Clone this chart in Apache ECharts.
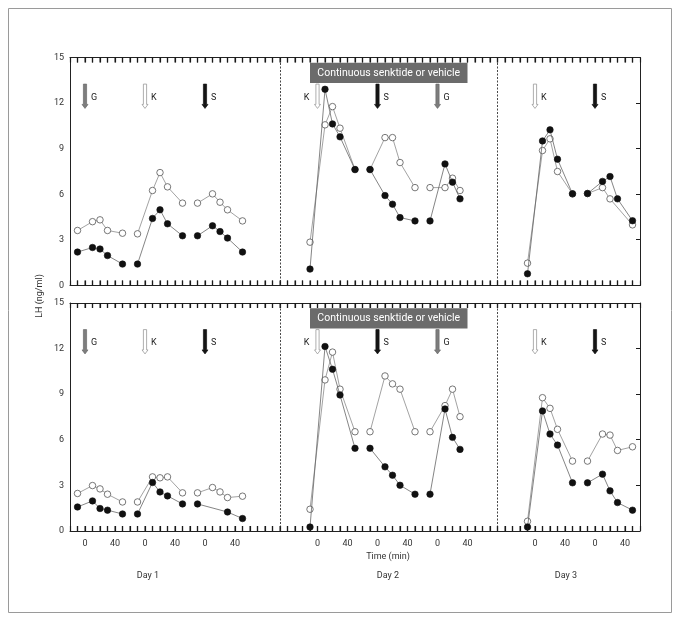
<!DOCTYPE html>
<html>
<head>
<meta charset="utf-8">
<script src="https://cdn.jsdelivr.net/npm/echarts@6/dist/echarts.min.js"></script>
<style>
  html, body { margin: 0; padding: 0; background: #fff; }
  #chart { width: 681px; height: 622px; }
</style>
</head>
<body>
<div id="chart"></div>
<script>
// time axis is one long minute scale, every injection gets its own "0"
const injectionZeros = [20, 100, 180, 330, 410, 490, 620, 700];
const injectionNames = ['G', 'K', 'S', 'K', 'S', 'G', 'K', 'S'];
const sampleTimes = [-10, 10, 20, 30, 50];
const timeTickOffsets = [0, 40];
const dayDividers = [280, 570];
const dayNames = ['Day 1', 'Day 2', 'Day 3'];
const bannerText = 'Continuous senktide or vehicle';

// LH (ng/ml), one row per injection group, null = no sample
const topFilled = [
  [2.2, 2.5, 2.4, 1.97, 1.41],
  [1.41, 4.41, 4.98, 4.06, 3.27],
  [3.27, 3.93, 3.55, 3.12, 2.2],
  [1.08, 12.91, 10.63, 9.78, 7.63],
  [7.63, 5.92, 5.35, 4.47, 4.25],
  [4.25, 8.0, 6.8, 5.7, null],
  [0.77, 9.51, 10.24, 8.31, 6.03],
  [6.05, 6.85, 7.17, 5.7, 4.26],
];
const topOpen = [
  [3.62, 4.2, 4.32, 3.62, 3.44],
  [3.4, 6.25, 7.43, 6.49, 5.42],
  [5.42, 6.03, 5.48, 4.98, 4.25],
  [2.85, 10.57, 11.77, 10.35, 7.63],
  [7.63, 9.73, 9.73, 8.09, 6.44],
  [6.44, 6.44, 7.06, 6.25, null],
  [1.47, 8.88, 9.65, 7.5, 6.03],
  [6.05, 6.44, 5.7, null, 3.99],
];
const bottomFilled = [
  [1.58, 1.98, 1.48, 1.37, 1.12],
  [1.12, 3.19, 2.57, 2.31, 1.78],
  [1.78, null, null, 1.25, 0.82],
  [0.26, 12.14, 10.64, 8.95, 5.44],
  [5.44, 4.22, 3.67, 3.01, 2.42],
  [2.42, 8.03, 6.16, 5.37, null],
  [0.26, 7.9, 6.38, 5.65, 3.17],
  [3.17, 3.74, 2.64, 1.87, 1.37],
];
const bottomOpen = [
  [2.47, 2.99, 2.77, 2.42, 1.91],
  [1.91, 3.56, 3.5, 3.56, 2.51],
  [2.51, 2.86, 2.57, 2.2, 2.29],
  [1.43, 9.94, 11.77, 9.33, 6.53],
  [6.53, 10.2, 9.68, 9.33, 6.53],
  [6.53, 8.25, 9.33, 7.52, null],
  [0.64, 8.77, 8.07, 6.69, 4.6],
  [4.6, 6.38, 6.31, 5.3, 5.54],
];

const FONT = 'Roboto';
const X_MAX = 760;
const Y_MAX = 15;

const labelValues = [];
injectionZeros.forEach((z) => timeTickOffsets.forEach((o) => labelValues.push(z + o)));
const xTickValues = [];
for (let v = 10; v < X_MAX; v += 10) xTickValues.push(v);
const yTickValues = [3, 6, 9, 12];

const arrowFill = { G: '#7d7d7d', K: '#ffffff', S: '#141414' };
const arrowStroke = { G: '#6a6a6a', K: '#8c8c8c', S: '#141414' };

const xAxisFor = (gridIndex, position, withLabels) => ({
  type: 'value',
  gridIndex,
  position,
  min: 0,
  max: X_MAX,
  interval: 10,
  splitLine: { show: false },
  axisLine: { show: true, onZero: false, lineStyle: { color: '#222', width: 1 } },
  axisTick: { show: true, inside: true, length: 5, lineStyle: { color: '#1a1a1a', width: 1.2 } },
  axisLabel: withLabels
    ? {
        show: true,
        customValues: labelValues,
        margin: 8,
        fontSize: 9,
        fontFamily: FONT,
        color: '#333',
        formatter: (v) => {
          const z = injectionZeros.find((zz) => timeTickOffsets.includes(v - zz));
          return z == null ? '' : String(v - z);
        },
      }
    : { show: false },
});

const yAxisFor = (gridIndex, position) => ({
  type: 'value',
  gridIndex,
  position,
  min: 0,
  max: Y_MAX,
  interval: 3,
  splitLine: { show: false },
  axisLine: { show: true, onZero: false, lineStyle: { color: '#222', width: 1 } },
  axisTick: { show: false },
  axisLabel: position === 'left'
    ? { show: true, fontSize: 9, fontFamily: FONT, color: '#333', margin: 6 }
    : { show: false },
});

// frame ticks along top / bottom as small rect symbols sitting on the edge
const edgeTickSeries = (gridIdx, atTop) => ({
  type: 'scatter',
  xAxisIndex: gridIdx * 2,
  yAxisIndex: gridIdx * 2,
  data: xTickValues.map((v) => [v, atTop ? Y_MAX : 0]),
  symbol: 'rect',
  symbolSize: [1.2, 5],
  symbolOffset: [0, atTop ? 2.5 : -2.5],
  itemStyle: { color: '#1a1a1a' },
  silent: true,
  clip: false,
  z: 7,
  animation: false,
});

// right-side y ticks
const yTickSeries = (gridIdx) => ({
  type: 'custom',
  xAxisIndex: gridIdx * 2,
  yAxisIndex: gridIdx * 2,
  silent: true,
  clip: false,
  z: 7,
  data: yTickValues.map((v) => [X_MAX, v]),
  renderItem: (params, api) => {
    const p = api.coord([api.value(0), api.value(1)]);
    return {
      type: 'rect',
      shape: { x: p[0] - 4, y: Math.floor(p[1]), width: 4, height: 1 },
      style: { fill: '#1a1a1a' },
    };
  },
});

const toPoints = (values, groupIdx) => {
  const pts = [];
  values.forEach((v, i) => {
    if (v != null) pts.push([injectionZeros[groupIdx] + sampleTimes[i], v]);
  });
  return pts;
};

const lineSeries = (values, groupIdx, gridIdx, filled) => ({
  type: 'line',
  xAxisIndex: gridIdx * 2,
  yAxisIndex: gridIdx * 2,
  data: toPoints(values, groupIdx),
  symbol: 'circle',
  symbolSize: 6.5,
  lineStyle: { color: filled ? '#666' : '#8a8a8a', width: 0.8 },
  itemStyle: filled
    ? { color: '#111', borderColor: '#111', borderWidth: 0.6 }
    : { color: '#fff', borderColor: '#555', borderWidth: 0.8 },
  z: filled ? 4 : 3,
  silent: true,
  animation: false,
});

const dividerSeries = (gridIdx) => ({
  type: 'line',
  xAxisIndex: gridIdx * 2,
  yAxisIndex: gridIdx * 2,
  data: [],
  silent: true,
  markLine: {
    silent: true,
    symbol: ['none', 'none'],
    label: { show: false },
    lineStyle: { color: '#333', width: 0.9, type: [2, 1.5] },
    data: dayDividers.map((x) => ({ xAxis: x })),
    animation: false,
  },
});

const arrowSeries = (gridIdx) => ({
  type: 'custom',
  xAxisIndex: gridIdx * 2,
  yAxisIndex: gridIdx * 2,
  silent: true,
  z: 5,
  data: injectionZeros.map((z, i) => [z, 13.25, 11.65, i]),
  renderItem: (params, api) => {
    const top = api.coord([api.value(0), api.value(1)]);
    const bot = api.coord([api.value(0), api.value(2)]);
    const name = injectionNames[api.value(3)];
    const x = top[0];
    const hb = bot[1] - 4;
    const leftLabel = api.value(3) === 3;
    return {
      type: 'group',
      children: [
        {
          type: 'polygon',
          shape: {
            points: [
              [x - 1.6, top[1]], [x + 1.6, top[1]], [x + 1.6, hb], [x + 3, hb],
              [x, bot[1]], [x - 3, hb], [x - 1.6, hb],
            ],
          },
          style: { fill: arrowFill[name], stroke: arrowStroke[name], lineWidth: 0.7 },
        },
        {
          type: 'text',
          style: {
            text: name,
            x: leftLabel ? x - 8 : x + 6,
            y: (top[1] + bot[1]) / 2 + 1,
            align: leftLabel ? 'right' : 'left',
            verticalAlign: 'middle',
            fontSize: 9,
            fontFamily: FONT,
            fill: '#222',
          },
        },
      ],
    };
  },
});

const bannerSeries = (gridIdx) => ({
  type: 'custom',
  xAxisIndex: gridIdx * 2,
  yAxisIndex: gridIdx * 2,
  silent: true,
  z: 6,
  data: [[320, 14.66, 530, 13.32]],
  renderItem: (params, api) => {
    const a = api.coord([api.value(0), api.value(1)]);
    const b = api.coord([api.value(2), api.value(3)]);
    return {
      type: 'group',
      children: [
        {
          type: 'rect',
          shape: { x: a[0], y: a[1], width: b[0] - a[0], height: b[1] - a[1] },
          style: { fill: '#6b6b6b' },
        },
        {
          type: 'text',
          style: {
            text: bannerText,
            x: (a[0] + b[0]) / 2,
            y: (a[1] + b[1]) / 2 + 0.5,
            align: 'center',
            verticalAlign: 'middle',
            fontSize: 10.5,
            fontFamily: FONT,
            fill: '#fff',
          },
        },
      ],
    };
  },
});

const series = [];
[[topFilled, topOpen], [bottomFilled, bottomOpen]].forEach(([filled, open], gridIdx) => {
  series.push(dividerSeries(gridIdx));
  series.push(edgeTickSeries(gridIdx, false));
  series.push(edgeTickSeries(gridIdx, true));
  series.push(yTickSeries(gridIdx));
  open.forEach((vals, g) => series.push(lineSeries(vals, g, gridIdx, false)));
  filled.forEach((vals, g) => series.push(lineSeries(vals, g, gridIdx, true)));
  series.push(arrowSeries(gridIdx));
  series.push(bannerSeries(gridIdx));
});

const textStyle = { fontFamily: FONT, fontSize: 9, fill: '#333' };

const chart = echarts.init(document.getElementById('chart'), null, { renderer: 'canvas' });
chart.setOption({
  animation: false,
  backgroundColor: '#fff',
  grid: [
    { left: 70, top: 57.5, width: 570, height: 228, outerBoundsMode: 'none' },
    { left: 70, top: 303, width: 570, height: 228, outerBoundsMode: 'none' },
  ],
  xAxis: [
    xAxisFor(0, 'bottom', false),
    xAxisFor(0, 'top', false),
    xAxisFor(1, 'bottom', true),
    xAxisFor(1, 'top', false),
  ],
  yAxis: [
    yAxisFor(0, 'left'),
    yAxisFor(0, 'right'),
    yAxisFor(1, 'left'),
    yAxisFor(1, 'right'),
  ],
  graphic: [
    {
      type: 'rect',
      shape: { x: 8.5, y: 8.5, width: 663, height: 604 },
      style: { fill: 'none', stroke: '#9a9a9a', lineWidth: 1 },
      silent: true,
    },
    {
      type: 'text',
      x: 40,
      y: 296,
      rotation: Math.PI / 2,
      style: Object.assign({ text: 'LH (ng/ml)', align: 'center', verticalAlign: 'middle' }, textStyle),
    },
    {
      type: 'text',
      x: 388,
      y: 557,
      style: Object.assign({ text: 'Time (min)', align: 'center', verticalAlign: 'middle' }, textStyle),
    },
    ...dayNames.map((d, i) => ({
      type: 'text',
      x: [148, 388, 566][i],
      y: 576,
      style: Object.assign({ text: d, align: 'center', verticalAlign: 'middle' }, textStyle),
    })),
  ],
  series,
});
</script>
</body>
</html>
